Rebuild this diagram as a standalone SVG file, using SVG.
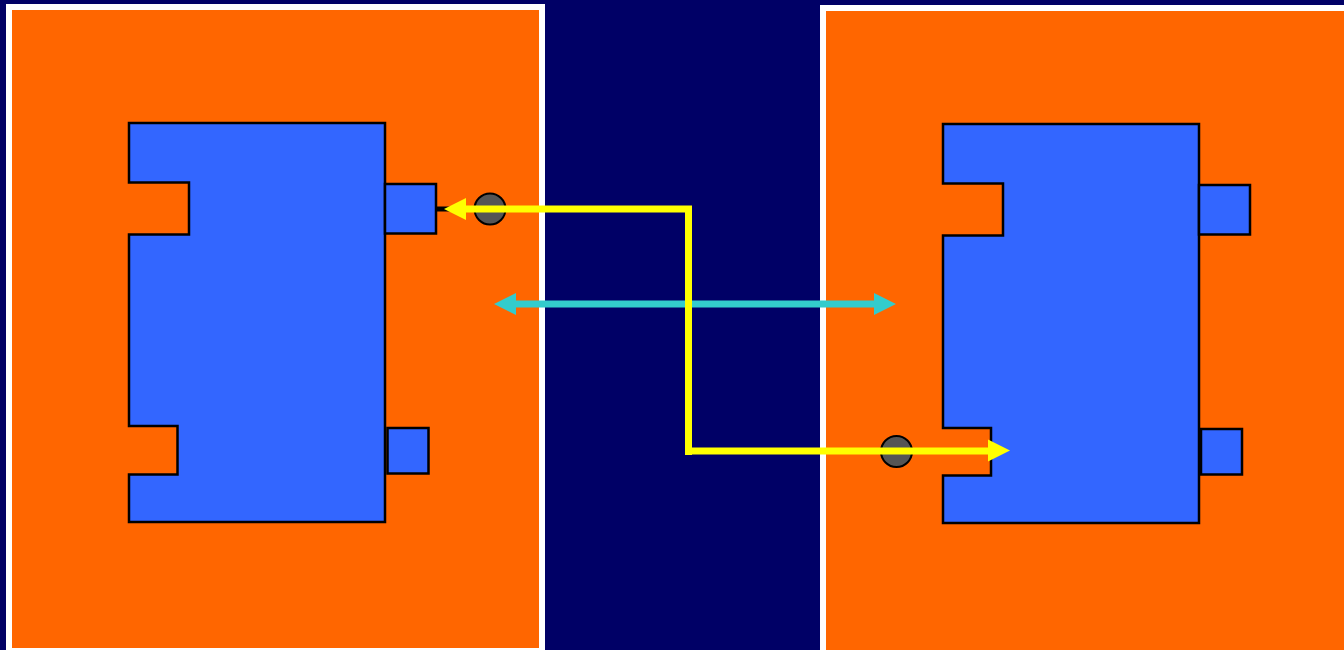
<svg xmlns="http://www.w3.org/2000/svg" width="1344" height="650" viewBox="0 0 1344 650">
<style>
.panel{fill:#FF6600;stroke:#FFFFFF;stroke-width:6}
.body{fill:#3366FF;stroke:#000000;stroke-width:2.5;stroke-linejoin:miter}
.dot{fill:#555555;stroke:#000000;stroke-width:2}
.yl{fill:none;stroke:#FFFF00;stroke-width:7;stroke-linecap:butt}
.yh{fill:#FFFF00}
.cy{fill:none;stroke:#33CCCC;stroke-width:7}
.ch{fill:#33CCCC}
</style>
<rect x="0" y="0" width="1344" height="650" fill="#000066"/>
<g id="panel-left"><rect class="panel" x="9" y="7" width="533" height="644"/></g>
<g id="panel-right"><rect class="panel" x="823" y="8" width="530" height="650"/></g>
<g id="node-left">
<path class="body" d="M129,123 H385 V522 H129 V474.5 H177.5 V426 H129 V234.5 H189 V182.5 H129 Z"/>
<rect class="body" x="385" y="184" width="51" height="49.5"/>
<rect class="body" x="387.5" y="428" width="41" height="45.5"/>
<rect x="436" y="206.5" width="14" height="5" fill="#000000"/>
<circle class="dot" cx="490" cy="209" r="15.5"/>
</g>
<g id="node-right">
<path class="body" d="M943,124 H1199 V523 H943 V475.5 H991 V428 H943 V235.5 H1003 V183.5 H943 Z"/>
<rect class="body" x="1199" y="185" width="51" height="49.5"/>
<rect class="body" x="1201" y="429" width="41" height="45.5"/>
<circle class="dot" cx="896.5" cy="451.5" r="15.5"/>
</g>
<g id="connectors">
<path class="cy" d="M515,304 H875"/>
<polygon class="ch" points="494,304 516,293 516,315"/>
<polygon class="ch" points="896,304 874,293 874,315"/>
<path class="yl" d="M688.5,455 V209 H465"/>
<polygon class="yh" points="444,209 466,198 466,220"/>
<path class="yl" d="M685,451 H989"/>
<polygon class="yh" points="1010,450.5 988,439.5 988,461.5"/>
</g>
</svg>
